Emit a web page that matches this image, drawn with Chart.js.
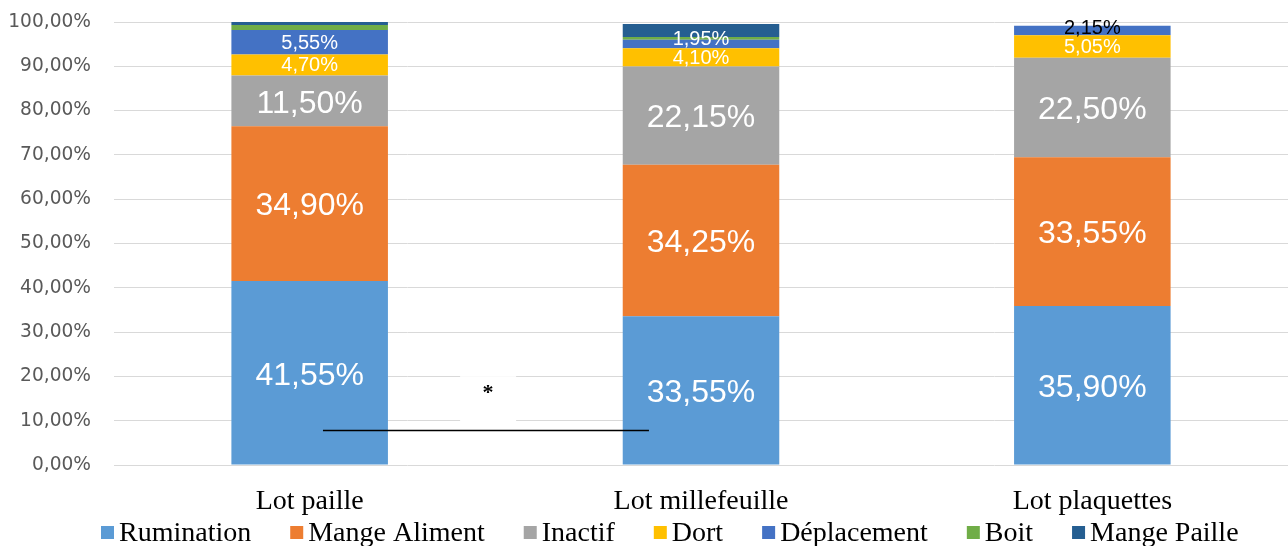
<!DOCTYPE html>
<html><head><meta charset="utf-8">
<script src="https://cdn.jsdelivr.net/npm/chart.js@4/dist/chart.umd.min.js"></script>
<style>html,body{margin:0;padding:0;background:#fff}#wrap{width:1288px;height:546px;position:relative}</style>
</head><body><div id="wrap"><canvas id="c" width="1288" height="546"></canvas></div>
<script>
const categories = ['Lot paille', 'Lot millefeuille', 'Lot plaquettes'];
const rumination   = [41.55, 33.55, 35.90];
const mangeAliment = [34.90, 34.25, 33.55];
const inactif      = [11.50, 22.15, 22.50];
const dort         = [4.70, 4.10, 5.05];
const deplacement  = [5.55, 1.95, 2.15];
const boit         = [1.15, 0.60, 0];
const mangePaille  = [0.65, 2.95, 0];
const seriesNames  = ['Rumination', 'Mange Aliment', 'Inactif', 'Dort', 'Déplacement', 'Boit', 'Mange Paille'];
const yTicks = [0, 10, 20, 30, 40, 50, 60, 70, 80, 90, 100];
// significance marker between Lot paille and Lot millefeuille
const sigFrom = 0.034, sigTo = 0.867, sigLineY = 8.0, sigStarX = 0.456, sigStarY = 16.9, sigText = '*';

const colors = ['#5B9BD5', '#ED7D31', '#A5A5A5', '#FFC000', '#4472C4', '#70AD47', '#255E91'];
const showLabels = [true, true, true, true, true, false, false];
const labelColor = (di, i) => (di === 4 && i === 2) ? '#000000' : '#FFFFFF';
const labelOffset = (di, i) => (di === 4 && i === 1) ? -6 : (di === 4 && i === 2) ? -3 : 0;
const fmt = v => v.toFixed(2).replace('.', ',') + '%';

const allSeries = [rumination, mangeAliment, inactif, dort, deplacement, boit, mangePaille];
const datasets = allSeries.map((d, k) => ({
  label: seriesNames[k], data: d, backgroundColor: colors[k], borderWidth: 0,
  barPercentage: 0.8, categoryPercentage: 0.5
}));

const labelPlugin = {
  id: 'barLabels',
  afterDatasetsDraw(chart) {
    const ctx = chart.ctx;
    ctx.save();
    ctx.textAlign = 'center';
    ctx.textBaseline = 'middle';
    chart.data.datasets.forEach((ds, di) => {
      if (!showLabels[di]) return;
      chart.getDatasetMeta(di).data.forEach((bar, i) => {
        const v = ds.data[i];
        if (!v) return;
        const big = v >= 10;
        ctx.font = (big ? '32px' : '20px') + ' "Liberation Sans", Arial, sans-serif';
        ctx.fillStyle = labelColor(di, i);
        ctx.fillText(fmt(v), bar.x, (bar.y + bar.base) / 2 + labelOffset(di, i) + (big ? 3 : 1));
      });
    });
    // significance annotation
    const xs = chart.scales.x, ys = chart.scales.y;
    const cx = xs.getPixelForValue(sigStarX), cy = ys.getPixelForValue(sigStarY);
    ctx.fillStyle = '#FFFFFF';
    ctx.fillRect(cx - 28, cy - 14, 56, 46);
    ctx.fillStyle = '#000000';
    ctx.font = 'bold 22px "Liberation Serif", serif';
    ctx.fillText(sigText, cx, cy + 3);
    const ly = Math.round(ys.getPixelForValue(sigLineY)) + 0.5;
    ctx.strokeStyle = '#000000';
    ctx.lineWidth = 1.3;
    ctx.beginPath();
    ctx.moveTo(xs.getPixelForValue(sigFrom), ly);
    ctx.lineTo(xs.getPixelForValue(sigTo), ly);
    ctx.stroke();
    ctx.restore();
  }
};

const legendPlugin = {
  id: 'customLegend',
  afterDraw(chart) {
    const ctx = chart.ctx;
    ctx.save();
    ctx.font = '28px "Liberation Serif", "Times New Roman", serif';
    ctx.textBaseline = 'middle';
    ctx.textAlign = 'left';
    let x = 101;
    const yMid = 533;
    chart.data.datasets.forEach((ds) => {
      ctx.fillStyle = ds.backgroundColor;
      ctx.fillRect(x, yMid - 7, 13, 13);
      x += 13 + 5;
      ctx.fillStyle = '#000000';
      ctx.fillText(ds.label, x, yMid + 1);
      x += ctx.measureText(ds.label).width + 39;
    });
    ctx.restore();
  }
};

new Chart(document.getElementById('c'), {
  type: 'bar',
  data: { labels: categories, datasets },
  options: {
    responsive: false, animation: false,
    layout: { padding: { top: 22, right: 0, left: 0, bottom: 21 } },
    plugins: { legend: { display: false }, tooltip: { enabled: false } },
    scales: {
      x: {
        stacked: true,
        grid: { display: false, drawTicks: false },
        border: { display: false },
        ticks: { color: '#000000', padding: 20, font: { family: '"Liberation Serif", "Times New Roman", serif', size: 28 } },
        afterFit: s => { s.height = 60; s.paddingLeft = 0; s.paddingRight = 0; }
      },
      y: {
        stacked: true, min: 0, max: 100,
        afterBuildTicks: s => { s.ticks = yTicks.map(v => ({ value: v })); },
        grid: { color: '#D9D9D9', lineWidth: 1, drawTicks: false },
        border: { display: false },
        ticks: { color: '#595959', padding: 23, font: { family: '"DejaVu Sans", sans-serif', size: 18.6 },
                 callback: v => v.toFixed(2).replace('.', ',') + '%' },
        afterFit: s => { s.width = 114; s.paddingTop = 0; s.paddingBottom = 0; }
      }
    }
  },
  plugins: [labelPlugin, legendPlugin]
});
</script></body></html>
